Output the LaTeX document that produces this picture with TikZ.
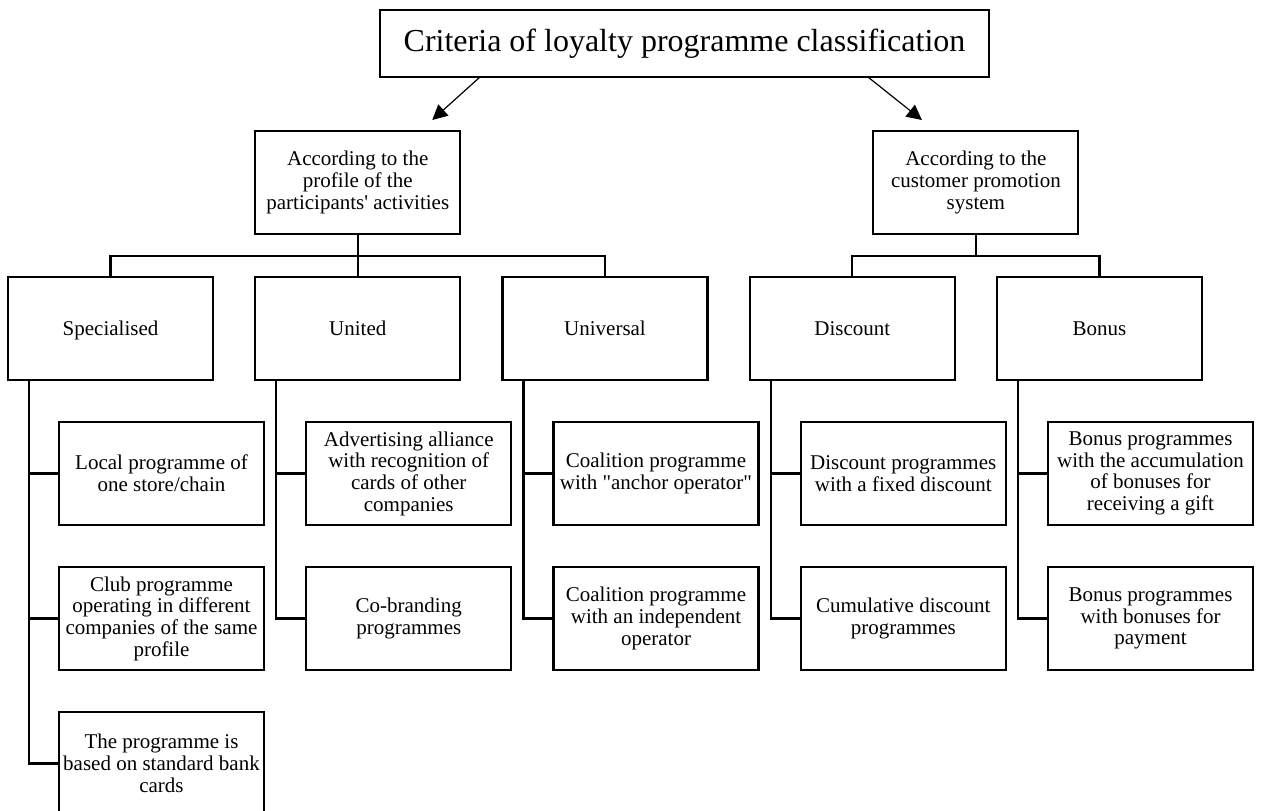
\documentclass[tikz,border=0pt]{standalone}
\usepackage{fontspec}
\setmainfont{Liberation Serif}[Ligatures=TeXOff]
\usepackage{tikz}
\usetikzlibrary{arrows.meta}
\usetikzlibrary{positioning}
\tikzstyle{block} = [rectangle, draw, line width=2.2pt, outer sep=0pt, minimum width=205pt, minimum height=103pt, inner sep=1pt, font=\fontsize{21pt}{21.7pt}\selectfont]
\tikzstyle{sort} = [block, text height=14.5pt, text depth=1.5pt]
\tikzstyle{head} = [rectangle, draw, line width=2.2pt, outer sep=0pt, minimum width=609pt, minimum height=67pt, font=\fontsize{32pt}{36pt}\selectfont]
\tikzstyle{link} = [line width=2.2pt]
\tikzstyle{pointer} = [-{Triangle[length=15pt,width=15pt]}, line width=1.2pt]

\begin{document}
\begin{tikzpicture}[every text node part/.style={align=center}]
   \useasboundingbox (0,0) rectangle (1262pt,-811pt);
   % Place nodes
   \node [head] (crit) at (684.5pt,-43.5pt) {Criteria of loyalty programme classification};
   \node [sort] (spec) at (110.5pt,-328.5pt) {Specialised};
   \node [sort, right = 42.25pt of spec] (unit) {United};
   \node [sort, right = 42.25pt of unit] (univ) {Universal};
   \node [sort, right = 42.25pt of univ] (disc) {Discount};
   \node [sort, right = 42.25pt of disc] (bonus) {Bonus};
   \coordinate [right = 21.125pt of disc.north east] (dbmid);
   \node [block, above = 43pt of unit] (prof) {According to the \\ profile of the \\ participants' activities};
   \node [block, above = 43pt of dbmid] (promo) {According to the \\ customer promotion \\ system};
   % Second level
   \node [block, below right = 42pt and -154pt of spec] (loc) {Local programme of \\ one store/chain};
   \node [block, below = 42pt of loc] (club) {Club programme \\ operating in different \\ companies of the same \\ profile};
   \node [block, below = 42pt of club] (bank) {The programme is \\ based on standard bank \\ cards};
   \node [block, below right = 42pt and -154pt of unit] (adv) {Advertising alliance \\ with recognition of \\ cards of other \\ companies};
   \node [block, below = 42pt of adv] (cobr) {Co-branding \\ programmes};
   \node [block, below right = 42pt and -154pt of univ] (anch) {Coalition programme \\ with "anchor operator"};
   \node [block, below = 42pt of anch] (indep) {Coalition programme \\ with an independent \\ operator};
   \node [block, below right = 42pt and -154pt of disc] (fixd) {Discount programmes \\ with a fixed discount};
   \node [block, below = 42pt of fixd] (cumd) {Cumulative discount \\ programmes};
   \node [block, below right = 42pt and -154pt of bonus] (gift) {Bonus programmes \\ with the accumulation \\ of bonuses for \\ receiving a gift};
   \node [block, below = 42pt of gift] (pay) {Bonus programmes \\ with bonuses for \\ payment};
   % Arrows
   \draw [pointer] ([xshift=100pt]crit.south west) -- ([xshift=-28pt,yshift=11pt]prof.north east);
   \draw [pointer] ([xshift=-121pt]crit.south east) -- ([xshift=48.5pt,yshift=11pt]promo.north west);
   % Tree lines
   \draw [link] (prof.south) -- ++(0,-22pt) -| (spec.north);
   \draw [link] (prof.south) -- ++(0,-22pt) -| (univ.north);
   \draw [link] (prof.south) -- (unit.north);
   \draw [link] (promo.south) -- ++(0,-22pt) -| (disc.north);
   \draw [link] (promo.south) -- ++(0,-22pt) -| (bonus.north);
   \draw [link] ([xshift=21pt]spec.south west) |- (loc.west);
   \draw [link] ([xshift=21pt]spec.south west) |- (club.west);
   \draw [link] ([xshift=21pt]spec.south west) |- (bank.west);
   \draw [link] ([xshift=21pt]unit.south west) |- (adv.west);
   \draw [link] ([xshift=21pt]unit.south west) |- (cobr.west);
   \draw [link] ([xshift=21pt]univ.south west) |- (anch.west);
   \draw [link] ([xshift=21pt]univ.south west) |- (indep.west);
   \draw [link] ([xshift=21pt]disc.south west) |- (fixd.west);
   \draw [link] ([xshift=21pt]disc.south west) |- (cumd.west);
   \draw [link] ([xshift=21pt]bonus.south west) |- (gift.west);
   \draw [link] ([xshift=21pt]bonus.south west) |- (pay.west);
\end{tikzpicture}
\end{document}
